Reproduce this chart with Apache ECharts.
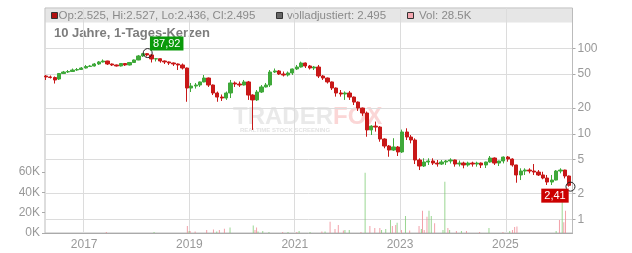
<!DOCTYPE html>
<html><head><meta charset="utf-8">
<script src="https://cdn.jsdelivr.net/npm/echarts@6/dist/echarts.min.js"></script>
<style>html,body{margin:0;padding:0;background:#fff}#c{width:632px;height:253px}</style>
</head><body><div id="c"></div>
<script>
// ---- data (monthly candles) ----
const months = ['2016-04-15','2016-05-15','2016-06-15','2016-07-15','2016-08-15','2016-09-15','2016-10-15','2016-11-15','2016-12-15',
'2017-01-15','2017-02-15','2017-03-15','2017-04-15','2017-05-15','2017-06-15','2017-07-15','2017-08-15','2017-09-15','2017-10-15','2017-11-15','2017-12-15',
'2018-01-15','2018-02-15','2018-03-15','2018-04-15','2018-05-15','2018-06-15','2018-07-15','2018-08-15','2018-09-15','2018-10-15','2018-11-15','2018-12-15',
'2019-01-15','2019-02-15','2019-03-15','2019-04-15','2019-05-15','2019-06-15','2019-07-15','2019-08-15','2019-09-15','2019-10-15','2019-11-15','2019-12-15',
'2020-01-15','2020-02-15','2020-03-15','2020-04-15','2020-05-15','2020-06-15','2020-07-15','2020-08-15','2020-09-15','2020-10-15','2020-11-15','2020-12-15',
'2021-01-15','2021-02-15','2021-03-15','2021-04-15','2021-05-15','2021-06-15','2021-07-15','2021-08-15','2021-09-15','2021-10-15','2021-11-15','2021-12-15',
'2022-01-15','2022-02-15','2022-03-15','2022-04-15','2022-05-15','2022-06-15','2022-07-15','2022-08-15','2022-09-15','2022-10-15','2022-11-15','2022-12-15',
'2023-01-15','2023-02-15','2023-03-15','2023-04-15','2023-05-15','2023-06-15','2023-07-15','2023-08-15','2023-09-15','2023-10-15','2023-11-15','2023-12-15',
'2024-01-15','2024-02-15','2024-03-15','2024-04-15','2024-05-15','2024-06-15','2024-07-15','2024-08-15','2024-09-15','2024-10-15','2024-11-15','2024-12-15',
'2025-01-15','2025-02-15','2025-03-15','2025-04-15','2025-05-15','2025-06-15','2025-07-15','2025-08-15','2025-09-15','2025-10-15','2025-11-15','2025-12-15',
'2026-01-15','2026-02-15','2026-03-15'];
const opens = [47.4,46.2,45.5,43.7,50.7,52.8,53.5,55.7,56.5,
58.8,61.2,62.1,65.5,69.2,71.0,65.5,63.8,62.1,66.4,63.8,68.2,
73.0,81.3,86.5,83.5,75.0,75.5,71.0,69.2,67.3,65.5,63.8,58.8,
34.3,36.2,37.2,40.4,44.9,37.2,30.0,26.9,26.2,30.0,39.3,38.2,
37.2,40.4,28.4,24.9,30.8,35.3,37.2,52.8,54.3,50.0,48.7,51.4,
57.3,60.4,67.3,62.1,58.8,60.4,47.4,44.9,40.4,34.3,30.0,29.2,
30.0,26.9,23.5,20.0,17.5,11.1,12.3,12.0,8.69,7.20,6.46,7.01,
6.13,10.5,9.17,8.46,4.94,4.20,4.68,4.81,4.55,4.43,4.68,4.81,
4.94,4.43,4.55,4.32,4.55,4.43,4.55,4.32,4.68,5.21,4.55,4.81,
5.35,5.07,4.32,3.30,3.67,3.77,3.67,3.57,3.30,3.04,2.73,2.88,
3.67,3.77,3.21];
const closes = [46.2,45.5,42.6,50.7,52.8,53.5,55.7,56.5,58.8,
61.2,62.1,65.5,69.2,71.0,65.5,63.8,62.1,66.4,63.8,68.2,73.0,
81.3,86.5,83.5,75.0,75.5,71.0,69.2,67.3,65.5,63.8,58.8,34.3,
36.2,37.2,40.4,44.9,37.2,30.0,26.9,26.2,30.0,39.3,38.2,37.2,
40.4,28.4,24.9,30.8,35.3,37.2,52.8,54.3,50.0,48.7,51.4,57.3,
60.4,67.3,62.1,58.8,60.4,47.4,44.9,40.4,34.3,30.0,29.2,30.0,
26.9,23.5,20.0,17.5,11.1,12.3,12.0,8.69,7.20,6.46,7.01,6.13,
10.5,9.17,8.46,4.94,4.20,4.68,4.81,4.55,4.43,4.68,4.81,4.94,
4.43,4.55,4.32,4.55,4.43,4.55,4.32,4.68,5.21,4.55,4.81,5.35,
5.07,4.32,3.30,3.67,3.77,3.67,3.57,3.30,3.04,2.73,2.88,3.67,
3.77,3.21,2.495];
const lows = [42.6,44.3,38.7,42.6,50.0,51.4,52.8,54.3,55.7,
58.0,60.4,61.2,63.8,68.2,63.8,62.1,61.2,61.2,62.1,62.9,67.3,
72.5,79.1,80.2,68.2,70.1,67.8,65.5,63.8,62.1,55.7,56.5,23.7,
30.8,33.8,35.3,40.0,35.3,28.4,23.7,24.2,24.9,26.2,35.3,35.3,
36.7,24.9,11.1,24.2,30.0,34.8,35.3,51.4,48.7,46.8,46.8,48.7,
55.7,59.5,58.8,56.5,55.7,44.9,42.6,38.7,32.5,27.2,27.2,24.9,
24.9,21.7,18.5,16.2,9.24,9.68,10.6,8.08,6.77,5.39,6.30,5.50,
5.96,8.46,7.74,4.43,3.77,4.09,4.32,4.32,4.13,4.32,4.32,4.49,
4.13,4.15,3.95,4.13,4.13,4.13,3.98,3.98,4.60,4.32,4.20,4.51,
4.72,4.13,2.68,2.88,3.30,3.45,3.30,3.21,2.94,2.52,2.52,2.85,
3.45,3.01,2.41];
const highs = [48.7,48.0,46.8,51.4,54.3,55.7,58.0,58.8,60.4,
63.8,63.8,67.3,71.0,74.0,71.5,66.4,64.6,67.3,67.3,69.2,74.0,
83.5,87.5,87.92,85.8,77.0,76.0,72.0,70.1,68.2,66.4,66.4,59.5,
39.3,39.3,40.9,48.7,45.5,37.7,31.2,28.8,31.2,42.6,40.9,40.9,
42.6,41.5,29.0,32.5,37.2,39.3,55.7,58.0,55.7,53.5,53.5,58.0,
63.8,69.8,68.2,63.8,62.1,63.8,48.7,45.5,40.9,34.8,32.5,31.3,
31.7,27.3,23.9,20.3,18.2,12.6,13.9,12.3,8.86,7.39,8.88,7.20,
11.2,11.6,9.68,8.86,5.17,5.17,5.17,5.17,4.94,4.94,4.94,5.17,
5.00,4.87,4.72,4.72,4.72,4.72,4.62,4.72,5.50,5.30,4.85,5.43,
5.50,5.17,4.35,3.95,3.95,3.95,4.43,3.77,3.60,3.30,3.30,3.77,
3.95,3.80,3.25];

const volDates = ['2017-06-04','2018-05-01','2018-12-18','2018-12-30','2019-01-06','2019-02-10','2019-05-01','2019-06-17','2019-07-10','2019-07-28','2019-09-01','2019-10-10',
'2020-03-19','2020-03-31','2020-04-11','2020-04-21','2020-05-24','2020-07-06','2020-10-09','2020-11-15','2021-01-15','2021-01-31','2021-04-17','2021-07-08','2021-07-30',
'2021-09-03','2021-10-07','2021-10-30','2021-12-04','2021-12-15','2022-01-14','2022-04-05','2022-05-04','2022-06-06','2022-07-10','2022-08-14','2022-08-26','2022-09-24',
'2022-10-27','2022-11-09','2022-12-02','2022-12-12','2023-01-11','2023-02-08','2023-03-09','2023-05-13','2023-05-29','2023-06-06','2023-06-18','2023-07-07','2023-07-21',
'2023-08-06','2023-08-29','2023-10-26','2023-11-08','2023-11-29','2023-12-11','2024-01-27','2024-03-02','2024-04-06','2024-07-06','2024-09-09','2024-12-15','2025-01-31',
'2025-02-19','2025-03-06','2025-03-22','2025-12-19','2026-01-11','2026-01-30','2026-02-10','2026-02-22'];
const volK = [1,1,7,2,2,1.5,3,3.5,1.5,3,4.3,5.3,
7.3,3,5.5,1.5,2,1,1,1,1,2,1,1.5,1.5,
11,4,8,2.5,3,3,1,59.4,7,5,5,3,4,
12.8,7,8,10,3,16.7,2.5,7,4,22,3,16,22,
16.7,9.5,3,50.5,5,3,2,2,2,1,5,1,2,
3,6,6.5,2,12.8,34,10.5,22];
const volUp = [0,1,0,1,0,0,0,0,1,0,0,1,
1,0,0,1,1,1,0,1,0,1,1,0,1,
0,0,0,0,1,1,0,1,0,0,0,1,1,
1,0,0,1,0,1,0,0,1,0,0,0,1,
1,0,1,1,0,1,0,1,0,0,1,0,1,
0,0,0,1,0,1,0,0];

const yearTicks = ['2017-01-01','2019-01-01','2021-01-01','2023-01-01','2025-01-01'];
const priceTicks = [1,2,5,10,20,50,100];
const maxPoint = ['2018-03-20', 87.92];
const minPoint = ['2026-03-25', 2.41];
const headerOHLC = 'Op:2.525, Hi:2.527, Lo:2.436, Cl:2.495';
const headerAdj = 'volladjustiert: 2.495';
const headerVol = 'Vol: 28.5K';
const titleText = '10 Jahre, 1-Tages-Kerzen';

// ---- chart ----
const FONT = '"Liberation Sans", Arial, sans-serif';
const UP = '#3fa93a', DOWN = '#c81818';
const candleData = months.map((m, i) => [m, opens[i], closes[i], lows[i], highs[i]]);
const volData = volDates.map((d, i) => ({
  value: [d, volK[i] * 1000],
  itemStyle: { color: volUp[i] ? 'rgba(120,200,110,0.75)' : 'rgba(238,130,140,0.75)' }
}));
const X_MIN = '2016-04-08', X_MAX = '2026-04-08';

const chart = echarts.init(document.getElementById('c'), null, { renderer: 'canvas' });
chart.setOption({
  animation: false,
  textStyle: { fontFamily: FONT },
  grid: [
    { left: 45, right: 59.5, top: 8, bottom: 20, show: true, borderColor: '#bbb', borderWidth: 1, backgroundColor: 'rgba(0,0,0,0)' },
    { left: 45, right: 59.5, top: 162, bottom: 20 }
  ],
  xAxis: [
    { type: 'time', gridIndex: 0, min: X_MIN, max: X_MAX,
      axisLine: { show: false }, axisTick: { show: false, customValues: yearTicks },
      axisLabel: { show: false, customValues: yearTicks },
      splitLine: { show: true, lineStyle: { color: '#dcdcdc', width: 1 } } },
    { type: 'time', gridIndex: 1, min: X_MIN, max: X_MAX,
      axisLine: { show: true, lineStyle: { color: '#aaa' } },
      axisTick: { show: false, customValues: yearTicks },
      axisLabel: { customValues: yearTicks, formatter: '{yyyy}', color: '#999', fontSize: 12, margin: 6, fontFamily: FONT },
      splitLine: { show: false } }
  ],
  yAxis: [
    { type: 'log', logBase: 10, gridIndex: 0, position: 'right', min: 0.692, max: 295.8,
      axisLine: { show: false },
      axisTick: { show: true, length: 3, customValues: priceTicks, lineStyle: { color: '#aaa' } },
      axisLabel: { customValues: priceTicks, color: '#999', fontSize: 12, margin: 5, fontFamily: FONT },
      splitLine: { show: true, lineStyle: { color: '#dcdcdc', width: 1 } } },
    { type: 'value', gridIndex: 1, position: 'left', min: 0, max: 70000, interval: 20000,
      axisLine: { show: false },
      axisTick: { show: true, length: 3, lineStyle: { color: '#aaa' } },
      axisLabel: { formatter: v => (v / 1000) + 'K', showMaxLabel: false, color: '#999', fontSize: 12, margin: 5, fontFamily: FONT },
      splitLine: { show: false } }
  ],
  graphic: [
    { type: 'rect', z: -1, silent: true, shape: { x: 45.5, y: 8.5, width: 527, height: 14 }, style: { fill: '#e6e6e6' } },
    { type: 'rect', silent: true, shape: { x: 51.5, y: 12.5, width: 6, height: 6 }, style: { fill: '#b01010', stroke: '#333', lineWidth: 1 } },
    { type: 'text', silent: true, x: 58.5, y: 16, style: { text: headerOHLC, font: '11.5px ' + FONT, fill: '#8a8a8a', verticalAlign: 'middle' } },
    { type: 'rect', silent: true, shape: { x: 276.5, y: 12.5, width: 6, height: 6 }, style: { fill: '#666', stroke: '#333', lineWidth: 1 } },
    { type: 'text', silent: true, x: 287, y: 16, style: { text: headerAdj, font: '11.5px ' + FONT, fill: '#8a8a8a', verticalAlign: 'middle' } },
    { type: 'rect', silent: true, shape: { x: 407.5, y: 12.5, width: 6, height: 6 }, style: { fill: '#f4a7b0', stroke: '#333', lineWidth: 1 } },
    { type: 'text', silent: true, x: 419, y: 16, style: { text: headerVol, font: '11.5px ' + FONT, fill: '#8a8a8a', verticalAlign: 'middle' } },
    { type: 'text', silent: true, x: 54, y: 33, style: { text: titleText, font: 'bold 13px ' + FONT, fill: '#7d7d7d', verticalAlign: 'middle' } },
    { type: 'text', z: -1, silent: true, x: 233, y: 117, style: { text: 'TRADER', font: 'bold 24px ' + FONT, fill: '#e9e9e9', verticalAlign: 'middle' } },
    { type: 'text', z: -1, silent: true, x: 333, y: 117, style: { text: 'FOX', font: 'bold 24px ' + FONT, fill: '#fbd6d6', verticalAlign: 'middle' } },
    { type: 'text', z: -1, silent: true, x: 240, y: 130, style: { text: 'REALTIME STOCK SCREENING', font: 'bold 6px ' + FONT, fill: '#e3e3e3', verticalAlign: 'middle' } }
  ],
  series: [
    { type: 'bar', xAxisIndex: 1, yAxisIndex: 1, data: volData, barWidth: 1, z: 1, silent: true },
    { type: 'candlestick', xAxisIndex: 0, yAxisIndex: 0, data: candleData, barWidth: 3.8, z: 3,
      itemStyle: { color: UP, color0: DOWN, borderColor: UP, borderColor0: DOWN, borderWidth: 1 },
      markPoint: {
        symbol: 'circle', symbolSize: 9,
        itemStyle: { color: 'rgba(0,0,0,0)', borderColor: '#222', borderWidth: 1 },
        label: { show: true, color: '#fff', fontSize: 11, fontFamily: FONT, padding: [2, 3, 1, 3] },
        data: [
          { coord: maxPoint, label: { formatter: '87,92', backgroundColor: '#0a9a0a', offset: [19, -9.5] } },
          { coord: minPoint, label: { formatter: '2,41', backgroundColor: '#cc0000', offset: [-15.5, 9] } }
        ]
      } }
  ]
});
</script>
</body></html>
